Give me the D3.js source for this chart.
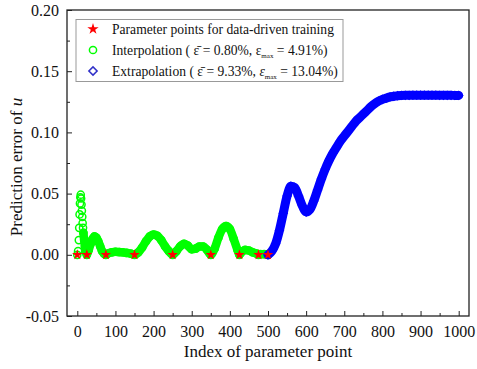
<!DOCTYPE html>
<html>
<head>
<meta charset="utf-8">
<script src="https://cdn.jsdelivr.net/npm/d3@7"></script>
<style>
  html, body { margin: 0; padding: 0; background: #fff; }
  svg { display: block; }
  svg text { font-family: "Liberation Serif", "Times New Roman", serif !important; fill: #111; }
</style>
</head>
<body>
<svg id="chart" width="477" height="369"></svg>
<script>
// Training parameter points (error is zero there)
const trainIndex = [0, 25, 75, 150, 250, 350, 425, 475, 500];

// Interpolation range: index of parameter point and prediction error of u
const interpIndex = [0, 2, 4, 5, 6, 7, 8, 9, 10, 11, 12, 13, 14, 15, 16, 18, 20, 22, 25,
  30, 35, 40, 45, 50, 55, 60, 65, 70, 75, 80, 90, 100, 110, 120, 130, 140, 150,
  160, 170, 180, 190, 200, 210, 220, 230, 240, 250, 260, 270, 280, 290, 300,
  310, 320, 330, 340, 350, 360, 370, 380, 390, 400, 410, 420, 425, 430, 440,
  450, 460, 470, 475, 480, 490, 500];
const interpError = [0, 0.003, 0.012, 0.022, 0.033, 0.042, 0.047, 0.0491, 0.046, 0.041,
  0.036, 0.031, 0.026, 0.022, 0.018, 0.012, 0.007, 0.003, 0,
  0.004, 0.009, 0.013, 0.015, 0.014, 0.011, 0.007, 0.003, 0.001, 0, 0.001, 0.002,
  0.0025, 0.0022, 0.002, 0.0015, 0.001, 0,
  0.002, 0.006, 0.011, 0.015, 0.0165, 0.0155, 0.012, 0.007, 0.003, 0, 0.003,
  0.007, 0.009, 0.0075, 0.0045, 0.005, 0.0068, 0.0068, 0.004, 0, 0.005, 0.014,
  0.021, 0.0235, 0.021, 0.013, 0.004, 0, 0.002, 0.004, 0.0035, 0.002, 0.001, 0,
  0.0005, 0.0005, 0];

// Extrapolation range
const extrapIndex = [500, 510, 520, 530, 540, 550, 560, 570, 580, 590, 600, 610, 620,
  630, 640, 650, 660, 670, 680, 690, 700, 710, 720, 730, 740, 750, 760, 770,
  780, 790, 800, 810, 820, 830, 840, 850, 860, 870, 880, 890, 900, 910, 920,
  930, 940, 950, 960, 970, 980, 990, 1000];
const extrapError = [0, 0.003, 0.009, 0.020, 0.034, 0.048, 0.056, 0.055, 0.048, 0.040,
  0.035, 0.037, 0.044, 0.053, 0.062, 0.070, 0.077, 0.083, 0.088, 0.093, 0.097,
  0.101, 0.105, 0.109, 0.112, 0.115, 0.118, 0.121, 0.1235, 0.1255, 0.127, 0.128,
  0.129, 0.1295, 0.130, 0.1302, 0.1303, 0.1303, 0.1304, 0.1304, 0.1304, 0.1304,
  0.1304, 0.1304, 0.1304, 0.1303, 0.1303, 0.1303, 0.1303, 0.1302, 0.1302];

const xTicks = [0, 100, 200, 300, 400, 500, 600, 700, 800, 900, 1000];
const xTickLabels = ["0", "100", "200", "300", "400", "500", "600", "700", "800", "900", "1000"];
const yTicks = [-0.05, 0, 0.05, 0.10, 0.15, 0.20];
const yTickLabels = ["-0.05", "0.00", "0.05", "0.10", "0.15", "0.20"];

const SERIF = "'Liberation Serif', 'Times New Roman', serif";
const svg = d3.select("#chart");
const plotL = 67, plotR = 469, plotT = 10, plotB = 316;

const x = d3.scaleLinear().domain([-27, 1027]).range([plotL, plotR]);
const y = d3.scaleLinear().domain([-0.05, 0.20]).range([plotB, plotT]);

const GREEN = "#00ff00", BLUE = "#0000ff", RED = "#ff0000";

// Axes with inward ticks
const xMinor = d3.range(50, 1001, 100);
const yMinor = [-0.025, 0.025, 0.075, 0.125, 0.175];

const xAxis = svg.append("g").attr("transform", `translate(0,${plotB})`)
  .call(d3.axisBottom(x).tickValues(xTicks).tickSize(-5).tickSizeOuter(0).tickPadding(10)
    .tickFormat((d, i) => xTickLabels[i]));
const xAxisMinor = svg.append("g").attr("transform", `translate(0,${plotB})`)
  .call(d3.axisBottom(x).tickValues(xMinor).tickSize(-3).tickSizeOuter(0).tickFormat(""));
const yAxis = svg.append("g").attr("transform", `translate(${plotL},0)`)
  .call(d3.axisLeft(y).tickValues(yTicks).tickSize(-5).tickSizeOuter(0).tickPadding(8)
    .tickFormat((d, i) => yTickLabels[i]));
const yAxisMinor = svg.append("g").attr("transform", `translate(${plotL},0)`)
  .call(d3.axisLeft(y).tickValues(yMinor).tickSize(-3).tickSizeOuter(0).tickFormat(""));

[xAxis, xAxisMinor, yAxis, yAxisMinor].forEach(g => {
  g.attr("font-family", null).attr("font-size", null);
  g.select(".domain").remove();
  g.selectAll(".tick line").attr("stroke", "#222").attr("stroke-width", 1);
  g.selectAll(".tick text").style("font-family", SERIF).style("font-size", "16px")
    .attr("fill", "#111");
});

// Plot frame
svg.append("rect")
  .attr("x", plotL).attr("y", plotT)
  .attr("width", plotR - plotL).attr("height", plotB - plotT)
  .attr("fill", "none").attr("stroke", "#222").attr("stroke-width", 1.3);

const interp = interpIndex.map((v, i) => ({ i: v, e: interpError[i] }));
const extrap = extrapIndex.map((v, i) => ({ i: v, e: extrapError[i] }));

const band = d3.line().x(d => x(d.i)).y(d => y(d.e)).curve(d3.curveMonotoneX);
const plot = svg.append("g");

// Dense marker band for the interpolation range (the spike stays as open circles)
plot.append("path").datum(interp.filter(d => d.i >= 16))
  .attr("d", band).attr("fill", "none").attr("stroke", GREEN)
  .attr("stroke-width", 8.5).attr("stroke-linecap", "round").attr("stroke-linejoin", "round");
plot.selectAll("circle.interp").data(interp).join("circle")
  .attr("class", "interp")
  .attr("cx", d => x(d.i)).attr("cy", d => y(d.e)).attr("r", 3.6)
  .attr("fill", "none").attr("stroke", GREEN).attr("stroke-width", 1.5);

// Extrapolation range
plot.append("path").datum(extrap)
  .attr("d", band).attr("fill", "none").attr("stroke", BLUE)
  .attr("stroke-width", 9).attr("stroke-linecap", "round").attr("stroke-linejoin", "round");
const diamond = d3.symbol().type(d3.symbolSquare).size(30);
plot.selectAll("path.extrap").data(extrap).join("path")
  .attr("class", "extrap")
  .attr("d", diamond)
  .attr("transform", d => `translate(${x(d.i)},${y(d.e)}) rotate(45)`)
  .attr("fill", "none").attr("stroke", BLUE).attr("stroke-width", 1.5);

// Training points
const star = d3.symbol().type(d3.symbolStar).size(34);
plot.selectAll("path.train").data(trainIndex).join("path")
  .attr("class", "train")
  .attr("d", star)
  .attr("transform", d => `translate(${x(d)},${y(0)})`)
  .attr("fill", RED);

// Axis titles
svg.append("text")
  .attr("x", (plotL + plotR) / 2).attr("y", 357)
  .attr("text-anchor", "middle")
  .style("font-family", SERIF).style("font-size", "17px")
  .text("Index of parameter point");

const yTitle = svg.append("text")
  .attr("transform", `translate(22,${(plotT + plotB) / 2 + 4}) rotate(-90)`)
  .attr("text-anchor", "middle")
  .style("font-family", SERIF).style("font-size", "17px");
yTitle.append("tspan").text("Prediction error of ");
yTitle.append("tspan").attr("font-style", "italic").text("u");

// Legend
const lg = svg.append("g");
lg.append("rect").attr("x", 76).attr("y", 19.5).attr("width", 267).attr("height", 62)
  .attr("fill", "#fff").attr("stroke", "#999").attr("stroke-width", 1);

const rows = [29, 50, 71];
const symX = 93, txtX = 112, fs = "13.6px";

lg.append("path").attr("d", d3.symbol().type(d3.symbolStar).size(40))
  .attr("transform", `translate(${symX},${rows[0]})`).attr("fill", RED);
lg.append("circle").attr("cx", symX).attr("cy", rows[1]).attr("r", 3.6)
  .attr("fill", "none").attr("stroke", GREEN).attr("stroke-width", 1.5);
lg.append("path").attr("d", d3.symbol().type(d3.symbolSquare).size(34))
  .attr("transform", `translate(${symX},${rows[2]}) rotate(45)`)
  .attr("fill", "none").attr("stroke", "#3030c8").attr("stroke-width", 1.5);

lg.append("text").attr("x", txtX).attr("y", rows[0] + 4.5)
  .style("font-family", SERIF).style("font-size", fs)
  .text("Parameter points for data-driven training");

function statRow(yPos, label, mean, max, italicMax) {
  const t = lg.append("text").attr("x", txtX).attr("y", yPos + 4.5)
    .style("font-family", SERIF).style("font-size", fs);
  t.append("tspan").text(label + " ( ");
  t.append("tspan").text("\u03B5\u0304");
  t.append("tspan").text(" = " + mean + ", ");
  t.append("tspan").attr("font-style", italicMax ? "italic" : "normal").text("\u03B5");
  t.append("tspan").style("font-size", "7px").attr("dy", 3).text("max");
  t.append("tspan").attr("dy", -3).text(" = " + max + ")");
}
statRow(rows[1], "Interpolation", "0.80%", "4.91%", false);
statRow(rows[2], "Extrapolation", "9.33%", "13.04%", true);
</script>
</body>
</html>
